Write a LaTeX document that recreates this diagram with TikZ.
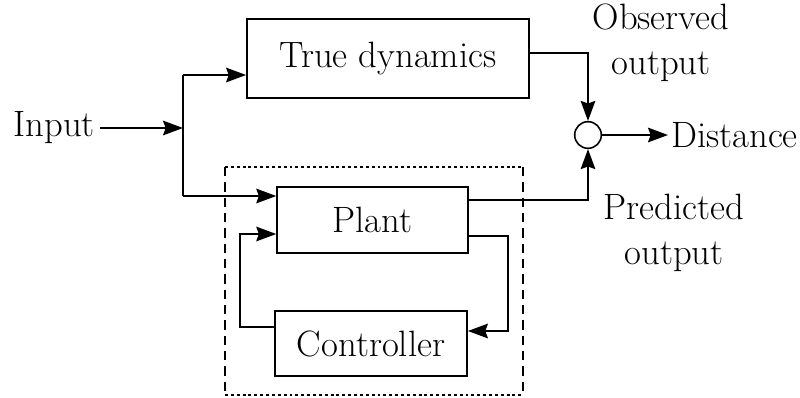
\documentclass[tikz,border=0pt]{standalone}
\usetikzlibrary{arrows.meta,calc}

\tikzset{
  blk/.style={draw,line width=1.4pt,minimum width=#1,inner sep=0pt},
  sig/.style={line width=1.2pt,-{Stealth[length=15pt,width=11pt,inset=2pt]}},
  wire/.style={line width=1.2pt},
  lbl/.style={font=\fontsize{27.5}{34}\selectfont,align=center,inner sep=0pt},
}

\begin{document}
\begin{tikzpicture}[x=0.75pt,y=0.75pt,yscale=-1,xscale=1]
\useasboundingbox (0,0) rectangle (800,397);
% Blocks
\node[blk=211.5pt,minimum height=59pt,lbl] (true) at (388,58.5) {True dynamics};
\node[blk=143pt,minimum height=49.5pt,lbl] (plant) at (372.5,220) {Plant};
\node[blk=144pt,minimum height=49pt,lbl] (ctrl) at (371,343.5) {Controller};
%Shape: Circle
\node[draw,circle,line width=1.2pt,minimum size=20pt,inner sep=0pt] (cmp) at (588,135) {};
% Plant + controller enclosure
\coordinate (bx1) at (225,167);
\coordinate (bx2) at (523,395);
\draw[line width=1.2pt,dash pattern=on 2.2pt off 2.2pt] (bx1) -- (bx1 -| bx2);
\draw[line width=1.2pt,dash pattern=on 2.2pt off 2.2pt] (bx1 |- bx2) -- (bx2);
\draw[line width=1pt,dash pattern=on 7pt off 4.5pt] (bx1) -- (bx1 |- bx2);
\draw[line width=1pt,dash pattern=on 7pt off 4.5pt] (bx1 -| bx2) -- (bx2);
% Text Node
\node[lbl,anchor=east] (in) at (95,128) {Input};
\node[lbl] (obs) at (661,43) {Observed\\output};
\node[lbl] (pred) at (674,233) {Predicted\\output};
\node[lbl,anchor=west] (dist) at (671,135) {Distance};
% Input split
\coordinate (split) at (183,128);
\draw[sig] (in.east) ++(5,0) -- (split);
\draw[wire] (split) -- (183,75) coordinate (up);
\draw[wire] (split) -- (183,196) coordinate (dn);
\draw[sig] (up) -- (up -| true.west);
\draw[sig] (dn) -- (dn -| plant.west);
% Feedback loop
\coordinate (pfb) at (468,236);
\draw[sig] (pfb) -| (508,331) -- (ctrl.east |- 0,331);
\draw[sig] (ctrl.west |- 0,327) -| (240,234) -- (plant.west |- 0,234);
% Outputs to comparison
\draw[sig] (true.east |- 0,53) -| (cmp.north);
\draw[sig] (plant.east |- 0,200) -| (cmp.south);
\draw[sig] (cmp.east) -- (668,135);
\end{tikzpicture}
\end{document}
